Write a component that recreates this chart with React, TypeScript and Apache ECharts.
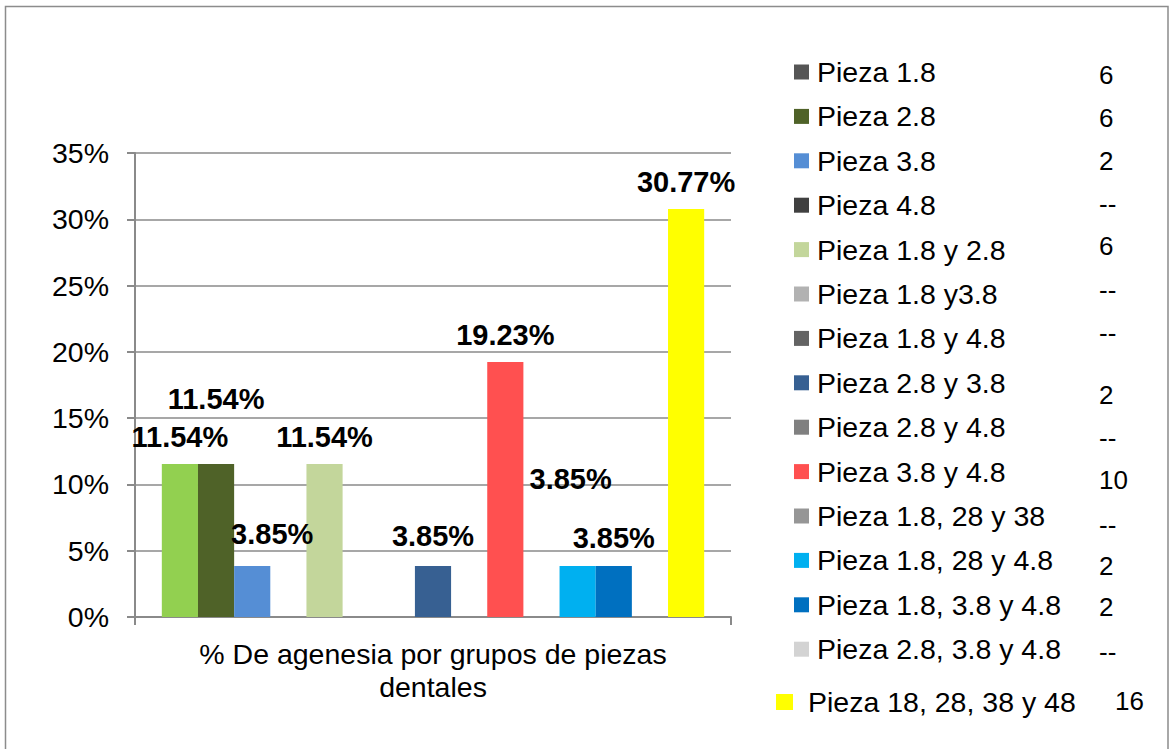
import React, { useEffect, useRef } from "react";
import * as echarts from "echarts";

// ---------- data ----------
const seriesNames = [
  "Pieza 1.8",
  "Pieza 2.8",
  "Pieza 3.8",
  "Pieza 4.8",
  "Pieza 1.8 y 2.8",
  "Pieza 1.8 y3.8",
  "Pieza 1.8 y 4.8",
  "Pieza 2.8 y 3.8",
  "Pieza 2.8 y 4.8",
  "Pieza 3.8 y 4.8",
  "Pieza 1.8, 28 y 38",
  "Pieza 1.8, 28 y 4.8",
  "Pieza 1.8, 3.8 y 4.8",
  "Pieza 2.8, 3.8 y 4.8",
  "Pieza 18, 28, 38 y 48",
];
const percentValues = [11.54, 11.54, 3.85, 0, 11.54, 0, 0, 3.85, 0, 19.23, 0, 3.85, 3.85, 0, 30.77];
const countLabels = ["6", "6", "2", "--", "6", "--", "--", "2", "--", "10", "--", "2", "2", "--", "16"];
const categories = ["% De agenesia por grupos de piezas\ndentales"];
const yMin = 0;
const yMax = 35;
const yInterval = 5;

// ---------- styles / layout ----------
const barColors = [
  "#92D050", "#4F6228", "#558ED5", "#404040", "#C3D69B", "#B2B2B2", "#636363", "#376092",
  "#808080", "#FF5050", "#969696", "#00B0F0", "#0070C0", "#D3D3D3", "#FFFF00",
];
const legendColors = [
  "#555555", "#4F6228", "#558ED5", "#404040", "#C3D69B", "#B2B2B2", "#636363", "#376092",
  "#808080", "#FF5050", "#969696", "#00B0F0", "#0070C0", "#D3D3D3", "#FFFF00",
];
// label offsets [dx, dy] per bar
const labelOffsets = [
  [0, 0], [0, -38], [20, -4], [0, 0], [0, 0], [0, 0], [0, 0], [0, -2],
  [0, 0], [0, 0], [0, 0], [-7, -59], [0, 0], [0, 0], [0, 0],
];
const countX = [1099, 1099, 1099, 1099, 1099, 1099, 1099, 1099, 1099, 1099, 1099, 1099, 1099, 1099, 1115];
const countY = [75, 118, 161, 204, 246, 290, 333, 395, 438, 480, 525, 566, 607, 652, 701];

const FONT = "'Liberation Sans', Arial, sans-serif";
const FS = 28.5;
const GRID_COLOR = "#8A8A8A";

export default function App() {
  const ref = useRef<HTMLDivElement>(null);

  useEffect(() => {
    if (!ref.current) return;
    const chart = echarts.init(ref.current, undefined, { renderer: "svg" });

    const series = seriesNames.map((name, i) => ({
      name,
      type: "bar",
      data: [percentValues[i]],
      barGap: "0%",
      barCategoryGap: "9%",
      itemStyle: { color: barColors[i] },
      label: {
        show: percentValues[i] > 0,
        position: "top",
        distance: 13,
        offset: labelOffsets[i],
        formatter: (p: any) => `${Number(p.value).toFixed(2)}%`,
        fontFamily: FONT,
        fontSize: 29,
        fontWeight: "bold",
        color: "#000",
      },
    }));

    const n = seriesNames.length;
    const mainLegend = seriesNames.slice(0, n - 1).map((name, i) => ({
      name,
      itemStyle: { color: legendColors[i] },
    }));
    const lastLegend = [{ name: seriesNames[n - 1], itemStyle: { color: legendColors[n - 1] } }];

    const countTexts = countLabels.map((t, i) => ({
      type: "text",
      x: countX[i],
      y: countY[i],
      style: {
        text: t,
        fontFamily: FONT,
        fontSize: 26,
        fill: "#000",
        textVerticalAlign: "middle",
        verticalAlign: "middle",
      },
    }));

    chart.setOption({
      animation: false,
      backgroundColor: "#fff",
      textStyle: { fontFamily: FONT },
      grid: { left: 135, right: 1173 - 731, top: 153, bottom: 749 - 617, containLabel: false },
      xAxis: {
        type: "category",
        data: [""],
        boundaryGap: true,
        axisLine: { show: true, lineStyle: { color: GRID_COLOR, width: 2 } },
        axisTick: { show: true, length: 8, lineStyle: { color: GRID_COLOR, width: 2 } },
        axisLabel: { show: false },
        name: categories[0],
        nameLocation: "middle",
        nameGap: 20,
        nameTextStyle: { fontFamily: FONT, fontSize: FS, lineHeight: 33, color: "#000" },
      },
      yAxis: {
        type: "value",
        min: yMin,
        max: yMax,
        interval: yInterval,
        axisLine: { show: true, lineStyle: { color: GRID_COLOR, width: 2 } },
        axisTick: { show: true, length: 8, lineStyle: { color: GRID_COLOR, width: 2 } },
        axisLabel: { formatter: "{value}%", margin: 26, fontFamily: FONT, fontSize: FS, color: "#000" },
        splitLine: { show: true, lineStyle: { color: GRID_COLOR, width: 1.5 } },
      },
      legend: [
        {
          orient: "vertical",
          left: 789,
          top: 52,
          itemWidth: 15,
          itemHeight: 15,
          itemGap: 14.4,
          icon: "rect",
          selectedMode: false,
          data: mainLegend,
          textStyle: { fontFamily: FONT, fontSize: FS, lineHeight: 30, color: "#000", padding: [0, 0, 0, 3] },
        },
        {
          orient: "vertical",
          left: 771,
          top: 682,
          itemWidth: 17,
          itemHeight: 16,
          icon: "rect",
          selectedMode: false,
          data: lastLegend,
          textStyle: { fontFamily: FONT, fontSize: FS, lineHeight: 30, color: "#000", padding: [0, 0, 0, 10] },
        },
      ],
      graphic: [
        {
          type: "rect",
          shape: { x: 5.5, y: 6.5, width: 1162.5, height: 800 },
          style: { fill: "none", stroke: "#8C8C8C", lineWidth: 1.5 },
          silent: true,
        },
        ...countTexts,
      ],
      series,
    });

    return () => chart.dispose();
  }, []);

  return (
    <div
      ref={ref}
      style={{ position: "absolute", left: 0, top: 0, width: 1173, height: 749, background: "#fff" }}
    />
  );
}
